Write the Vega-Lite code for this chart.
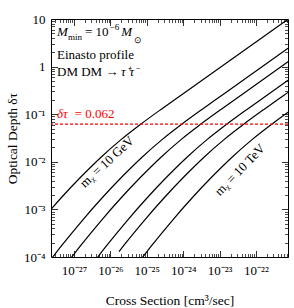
{
  "$schema": "https://vega.github.io/schema/vega-lite/v6.json",
  "width": 237,
  "height": 238,
  "autosize": {"type": "none"},
  "padding": {"left": 51, "top": 19, "right": 6, "bottom": 51},
  "background": "white",
  "config": {
    "view": {"stroke": "black", "strokeWidth": 1},
    "font": "Liberation Serif",
    "axis": {"domain": false, "grid": false, "labelFont": "Liberation Serif", "titleFont": "Liberation Serif", "labelColor": "black", "titleColor": "black", "tickColor": "black", "titleFontWeight": "normal", "labelFontSize": 13, "titleFontSize": 13.5}
  },
  "datasets": {
    "curves": [
      {"m": "10 GeV", "sigma": 1.242e-28, "tau": 5.768e-4},
      {"m": "10 GeV", "sigma": 4.395e-28, "tau": 1.734e-3},
      {"m": "10 GeV", "sigma": 1.560e-27, "tau": 4.842e-3},
      {"m": "10 GeV", "sigma": 5.521e-27, "tau": 1.250e-2},
      {"m": "10 GeV", "sigma": 1.959e-26, "tau": 2.924e-2},
      {"m": "10 GeV", "sigma": 6.934e-26, "tau": 6.223e-2},
      {"m": "10 GeV", "sigma": 2.455e-25, "tau": 0.1262},
      {"m": "10 GeV", "sigma": 8.710e-25, "tau": 0.2506},
      {"m": "10 GeV", "sigma": 1e-21, "tau": 11.51},
      {"m": "100 GeV", "sigma": 1.321e-28, "tau": 5.035e-5},
      {"m": "100 GeV", "sigma": 4.677e-28, "tau": 1.770e-4},
      {"m": "100 GeV", "sigma": 1.660e-27, "tau": 5.768e-4},
      {"m": "100 GeV", "sigma": 5.875e-27, "tau": 1.734e-3},
      {"m": "100 GeV", "sigma": 2.084e-26, "tau": 4.842e-3},
      {"m": "100 GeV", "sigma": 7.379e-26, "tau": 1.250e-2},
      {"m": "100 GeV", "sigma": 2.618e-25, "tau": 2.924e-2},
      {"m": "100 GeV", "sigma": 9.268e-25, "tau": 6.223e-2},
      {"m": "100 GeV", "sigma": 3.281e-24, "tau": 0.1262},
      {"m": "100 GeV", "sigma": 1.164e-23, "tau": 0.2506},
      {"m": "100 GeV", "sigma": 1e-21, "tau": 2.812},
      {"m": "300 GeV", "sigma": 4.395e-28, "tau": 5.035e-5},
      {"m": "300 GeV", "sigma": 1.556e-27, "tau": 1.770e-4},
      {"m": "300 GeV", "sigma": 5.521e-27, "tau": 5.768e-4},
      {"m": "300 GeV", "sigma": 1.954e-26, "tau": 1.734e-3},
      {"m": "300 GeV", "sigma": 6.934e-26, "tau": 4.842e-3},
      {"m": "300 GeV", "sigma": 2.455e-25, "tau": 1.250e-2},
      {"m": "300 GeV", "sigma": 8.710e-25, "tau": 2.924e-2},
      {"m": "300 GeV", "sigma": 3.083e-24, "tau": 6.223e-2},
      {"m": "300 GeV", "sigma": 1.091e-23, "tau": 0.1262},
      {"m": "300 GeV", "sigma": 3.873e-23, "tau": 0.2506},
      {"m": "300 GeV", "sigma": 1e-21, "tau": 1.466},
      {"m": "1 TeV", "sigma": 2.275e-27, "tau": 5.035e-5},
      {"m": "1 TeV", "sigma": 8.054e-27, "tau": 1.770e-4},
      {"m": "1 TeV", "sigma": 2.858e-26, "tau": 5.768e-4},
      {"m": "1 TeV", "sigma": 1.012e-25, "tau": 1.734e-3},
      {"m": "1 TeV", "sigma": 3.589e-25, "tau": 4.842e-3},
      {"m": "1 TeV", "sigma": 1.271e-24, "tau": 1.250e-2},
      {"m": "1 TeV", "sigma": 4.508e-24, "tau": 2.924e-2},
      {"m": "1 TeV", "sigma": 1.596e-23, "tau": 6.223e-2},
      {"m": "1 TeV", "sigma": 5.649e-23, "tau": 0.1262},
      {"m": "1 TeV", "sigma": 2.004e-22, "tau": 0.2506},
      {"m": "1 TeV", "sigma": 1e-21, "tau": 0.600},
      {"m": "3 TeV", "sigma": 1.722e-26, "tau": 1.291e-4},
      {"m": "3 TeV", "sigma": 2.360e-26, "tau": 1.770e-4},
      {"m": "3 TeV", "sigma": 8.375e-26, "tau": 5.768e-4},
      {"m": "3 TeV", "sigma": 2.965e-25, "tau": 1.734e-3},
      {"m": "3 TeV", "sigma": 1.052e-24, "tau": 4.842e-3},
      {"m": "3 TeV", "sigma": 3.724e-24, "tau": 1.250e-2},
      {"m": "3 TeV", "sigma": 1.321e-23, "tau": 2.924e-2},
      {"m": "3 TeV", "sigma": 4.677e-23, "tau": 6.223e-2},
      {"m": "3 TeV", "sigma": 1.656e-22, "tau": 0.1262},
      {"m": "3 TeV", "sigma": 5.875e-22, "tau": 0.2506},
      {"m": "3 TeV", "sigma": 1e-21, "tau": 0.3342},
      {"m": "10 TeV", "sigma": 3.926e-26, "tau": 5.035e-5},
      {"m": "10 TeV", "sigma": 1.390e-25, "tau": 1.770e-4},
      {"m": "10 TeV", "sigma": 4.932e-25, "tau": 5.768e-4},
      {"m": "10 TeV", "sigma": 1.746e-24, "tau": 1.734e-3},
      {"m": "10 TeV", "sigma": 6.194e-24, "tau": 4.842e-3},
      {"m": "10 TeV", "sigma": 2.193e-23, "tau": 1.250e-2},
      {"m": "10 TeV", "sigma": 7.780e-23, "tau": 2.924e-2},
      {"m": "10 TeV", "sigma": 2.754e-22, "tau": 6.223e-2},
      {"m": "10 TeV", "sigma": 9.750e-22, "tau": 0.1262}
    ]
  },
  "layer": [
    {
      "data": {"name": "curves"},
      "mark": {"type": "line", "color": "black", "strokeWidth": 1.2, "clip": true, "interpolate": "monotone"},
      "encoding": {
        "x": {"field": "sigma", "type": "quantitative", "scale": {"type": "log", "domain": [2.333e-28, 7.568e-22], "nice": false},
          "axis": {"orient": "bottom", "values": [1e-27, 1e-26, 1e-25, 1e-24, 1e-23, 1e-22], "ticks": false, "labelPadding": 7, "labelExpr": "datum.value < 3e-27 ? '10⁻²⁷' : datum.value < 3e-26 ? '10⁻²⁶' : datum.value < 3e-25 ? '10⁻²⁵' : datum.value < 3e-24 ? '10⁻²⁴' : datum.value < 3e-23 ? '10⁻²³' : '10⁻²²'", "title": "Cross Section [cm³/sec]", "titlePadding": 16}},
        "y": {"field": "tau", "type": "quantitative", "scale": {"type": "log", "domain": [1e-4, 10], "nice": false},
          "axis": {"orient": "left", "values": [1e-4, 1e-3, 0.01, 0.1, 1, 10], "ticks": false, "labelPadding": 6, "labelExpr": "datum.value > 5 ? '10' : datum.value > 0.5 ? '1' : datum.value > 0.05 ? '10⁻¹' : datum.value > 0.005 ? '10⁻²' : datum.value > 0.0005 ? '10⁻³' : '10⁻⁴'", "title": "Optical Depth δτ", "titlePadding": 4}},
        "detail": {"field": "m"}
      }
    },
    {
      "data": {"name": "curves"},
      "mark": {"type": "line", "opacity": 0, "clip": true},
      "encoding": {
        "x": {"field": "sigma", "type": "quantitative", "scale": {"type": "log", "domain": [2.333e-28, 7.568e-22], "nice": false},
          "axis": {"orient": "bottom", "values": [1e-27, 1e-26, 1e-25, 1e-24, 1e-23, 1e-22], "labels": false, "tickSize": -6.5, "tickWidth": 0.8, "title": null}},
        "y": {"field": "tau", "type": "quantitative", "scale": {"type": "log", "domain": [1e-4, 10], "nice": false},
          "axis": {"orient": "left", "values": [1e-4, 1e-3, 0.01, 0.1, 1, 10], "labels": false, "tickSize": -6.5, "tickWidth": 0.8, "title": null}},
        "detail": {"field": "m"}
      }
    },
    {
      "data": {"name": "curves"},
      "mark": {"type": "line", "opacity": 0, "clip": true},
      "encoding": {
        "x": {"field": "sigma", "type": "quantitative", "scale": {"type": "log", "domain": [2.333e-28, 7.568e-22], "nice": false},
          "axis": {"orient": "top", "values": [1e-27, 1e-26, 1e-25, 1e-24, 1e-23, 1e-22], "labels": false, "tickSize": -6.5, "tickWidth": 0.8, "title": null}},
        "y": {"field": "tau", "type": "quantitative", "scale": {"type": "log", "domain": [1e-4, 10], "nice": false},
          "axis": {"orient": "right", "values": [1e-4, 1e-3, 0.01, 0.1, 1, 10], "labels": false, "tickSize": -6.5, "tickWidth": 0.8, "title": null}},
        "detail": {"field": "m"}
      }
    },
    {
      "data": {"name": "curves"},
      "mark": {"type": "line", "opacity": 0, "clip": true},
      "encoding": {
        "x": {"field": "sigma", "type": "quantitative", "scale": {"type": "log", "domain": [2.333e-28, 7.568e-22], "nice": false},
          "axis": {"orient": "bottom", "values": [3e-28, 4e-28, 5e-28, 6e-28, 7e-28, 8e-28, 9e-28, 2e-27, 3e-27, 4e-27, 5e-27, 6e-27, 7e-27, 8e-27, 9e-27, 2e-26, 3e-26, 4e-26, 5e-26, 6e-26, 7e-26, 8e-26, 9e-26, 2e-25, 3e-25, 4e-25, 5e-25, 6e-25, 7e-25, 8e-25, 9e-25, 2e-24, 3e-24, 4e-24, 5e-24, 6e-24, 7e-24, 8e-24, 9e-24, 2e-23, 3e-23, 4e-23, 5e-23, 6e-23, 7e-23, 8e-23, 9e-23, 2e-22, 3e-22, 4e-22, 5e-22, 6e-22, 7e-22], "labels": false, "tickSize": -3.5, "tickWidth": 0.7, "title": null}},
        "y": {"field": "tau", "type": "quantitative", "scale": {"type": "log", "domain": [1e-4, 10], "nice": false},
          "axis": {"orient": "left", "values": [2e-4, 3e-4, 4e-4, 5e-4, 6e-4, 7e-4, 8e-4, 9e-4, 2e-3, 3e-3, 4e-3, 5e-3, 6e-3, 7e-3, 8e-3, 9e-3, 0.02, 0.03, 0.04, 0.05, 0.06, 0.07, 0.08, 0.09, 0.2, 0.3, 0.4, 0.5, 0.6, 0.7, 0.8, 0.9, 2, 3, 4, 5, 6, 7, 8, 9], "labels": false, "tickSize": -3.5, "tickWidth": 0.7, "title": null}},
        "detail": {"field": "m"}
      }
    },
    {
      "data": {"name": "curves"},
      "mark": {"type": "line", "opacity": 0, "clip": true},
      "encoding": {
        "x": {"field": "sigma", "type": "quantitative", "scale": {"type": "log", "domain": [2.333e-28, 7.568e-22], "nice": false},
          "axis": {"orient": "top", "values": [3e-28, 4e-28, 5e-28, 6e-28, 7e-28, 8e-28, 9e-28, 2e-27, 3e-27, 4e-27, 5e-27, 6e-27, 7e-27, 8e-27, 9e-27, 2e-26, 3e-26, 4e-26, 5e-26, 6e-26, 7e-26, 8e-26, 9e-26, 2e-25, 3e-25, 4e-25, 5e-25, 6e-25, 7e-25, 8e-25, 9e-25, 2e-24, 3e-24, 4e-24, 5e-24, 6e-24, 7e-24, 8e-24, 9e-24, 2e-23, 3e-23, 4e-23, 5e-23, 6e-23, 7e-23, 8e-23, 9e-23, 2e-22, 3e-22, 4e-22, 5e-22, 6e-22, 7e-22], "labels": false, "tickSize": -3.5, "tickWidth": 0.7, "title": null}},
        "y": {"field": "tau", "type": "quantitative", "scale": {"type": "log", "domain": [1e-4, 10], "nice": false},
          "axis": {"orient": "right", "values": [2e-4, 3e-4, 4e-4, 5e-4, 6e-4, 7e-4, 8e-4, 9e-4, 2e-3, 3e-3, 4e-3, 5e-3, 6e-3, 7e-3, 8e-3, 9e-3, 0.02, 0.03, 0.04, 0.05, 0.06, 0.07, 0.08, 0.09, 0.2, 0.3, 0.4, 0.5, 0.6, 0.7, 0.8, 0.9, 2, 3, 4, 5, 6, 7, 8, 9], "labels": false, "tickSize": -3.5, "tickWidth": 0.7, "title": null}},
        "detail": {"field": "m"}
      }
    },
    {
      "data": {"values": [{"tau": 0.062}]},
      "mark": {"type": "rule", "color": "#ff0000", "strokeDash": [3, 2], "strokeWidth": 1.2},
      "encoding": {"y": {"field": "tau", "type": "quantitative", "scale": {"type": "log", "domain": [1e-4, 10], "nice": false}, "axis": null}}
    },
    {
      "data": {"values": [
        {"text": "= 10", "sigma": 2.004e-27, "tau": 4.290},
        {"text": "Einasto profile", "sigma": 3.41e-28, "tau": 1.445},
        {"text": "DM DM →", "sigma": 3.41e-28, "tau": 0.6346}
      ]},
      "mark": {"type": "text", "align": "left", "baseline": "alphabetic", "fontSize": 13, "font": "Liberation Serif", "color": "black"},
      "encoding": {
        "x": {"field": "sigma", "type": "quantitative", "scale": {"type": "log", "domain": [2.333e-28, 7.568e-22], "nice": false}, "axis": null},
        "y": {"field": "tau", "type": "quantitative", "scale": {"type": "log", "domain": [1e-4, 10], "nice": false}, "axis": null},
        "text": {"field": "text"}
      }
    },
    {
      "data": {"values": [
        {"text": "M", "sigma": 3.41e-28, "tau": 4.290},
        {"text": "M", "sigma": 2.0e-26, "tau": 4.290},
        {"text": "τ⁺τ⁻", "sigma": 1.95e-26, "tau": 0.6346}
      ]},
      "mark": {"type": "text", "align": "left", "baseline": "alphabetic", "fontSize": 13, "fontStyle": "italic", "font": "Liberation Serif", "color": "black"},
      "encoding": {
        "x": {"field": "sigma", "type": "quantitative", "scale": {"type": "log", "domain": [2.333e-28, 7.568e-22], "nice": false}, "axis": null},
        "y": {"field": "tau", "type": "quantitative", "scale": {"type": "log", "domain": [1e-4, 10], "nice": false}, "axis": null},
        "text": {"field": "text"}
      }
    },
    {
      "data": {"values": [
        {"text": "min", "sigma": 6.84e-28, "tau": 3.622},
        {"text": "−6", "sigma": 9.5e-27, "tau": 5.734},
        {"text": "⊙", "sigma": 4.55e-26, "tau": 3.058}
      ]},
      "mark": {"type": "text", "align": "left", "baseline": "alphabetic", "fontSize": 9, "font": "Liberation Serif", "color": "black"},
      "encoding": {
        "x": {"field": "sigma", "type": "quantitative", "scale": {"type": "log", "domain": [2.333e-28, 7.568e-22], "nice": false}, "axis": null},
        "y": {"field": "tau", "type": "quantitative", "scale": {"type": "log", "domain": [1e-4, 10], "nice": false}, "axis": null},
        "text": {"field": "text"}
      }
    },
    {
      "data": {"values": [{"text": "δτ", "sigma": 3.41e-28, "tau": 0.0813}]},
      "mark": {"type": "text", "align": "left", "baseline": "alphabetic", "fontSize": 13, "fontStyle": "italic", "font": "Liberation Serif", "color": "#ff0000"},
      "encoding": {
        "x": {"field": "sigma", "type": "quantitative", "scale": {"type": "log", "domain": [2.333e-28, 7.568e-22], "nice": false}, "axis": null},
        "y": {"field": "tau", "type": "quantitative", "scale": {"type": "log", "domain": [1e-4, 10], "nice": false}, "axis": null},
        "text": {"field": "text"}
      }
    },
    {
      "data": {"values": [{"text": "= 0.062", "sigma": 1.05e-27, "tau": 0.0813}]},
      "mark": {"type": "text", "align": "left", "baseline": "alphabetic", "fontSize": 13, "font": "Liberation Serif", "color": "#ff0000"},
      "encoding": {
        "x": {"field": "sigma", "type": "quantitative", "scale": {"type": "log", "domain": [2.333e-28, 7.568e-22], "nice": false}, "axis": null},
        "y": {"field": "tau", "type": "quantitative", "scale": {"type": "log", "domain": [1e-4, 10], "nice": false}, "axis": null},
        "text": {"field": "text"}
      }
    },
    {
      "data": {"values": [{"text": "mᵪ = 10 GeV", "sigma": 8.07e-27, "tau": 9.91e-3}]},
      "mark": {"type": "text", "align": "center", "baseline": "middle", "angle": -43, "fontSize": 13, "font": "Liberation Serif", "color": "black"},
      "encoding": {
        "x": {"field": "sigma", "type": "quantitative", "scale": {"type": "log", "domain": [2.333e-28, 7.568e-22], "nice": false}, "axis": null},
        "y": {"field": "tau", "type": "quantitative", "scale": {"type": "log", "domain": [1e-4, 10], "nice": false}, "axis": null},
        "text": {"field": "text"}
      }
    },
    {
      "data": {"values": [{"text": "mᵪ = 10 TeV", "sigma": 3.63e-23, "tau": 6.73e-3}]},
      "mark": {"type": "text", "align": "center", "baseline": "middle", "angle": -46, "fontSize": 13, "font": "Liberation Serif", "color": "black"},
      "encoding": {
        "x": {"field": "sigma", "type": "quantitative", "scale": {"type": "log", "domain": [2.333e-28, 7.568e-22], "nice": false}, "axis": null},
        "y": {"field": "tau", "type": "quantitative", "scale": {"type": "log", "domain": [1e-4, 10], "nice": false}, "axis": null},
        "text": {"field": "text"}
      }
    }
  ],
  "resolve": {"axis": {"x": "independent", "y": "independent"}}
}
